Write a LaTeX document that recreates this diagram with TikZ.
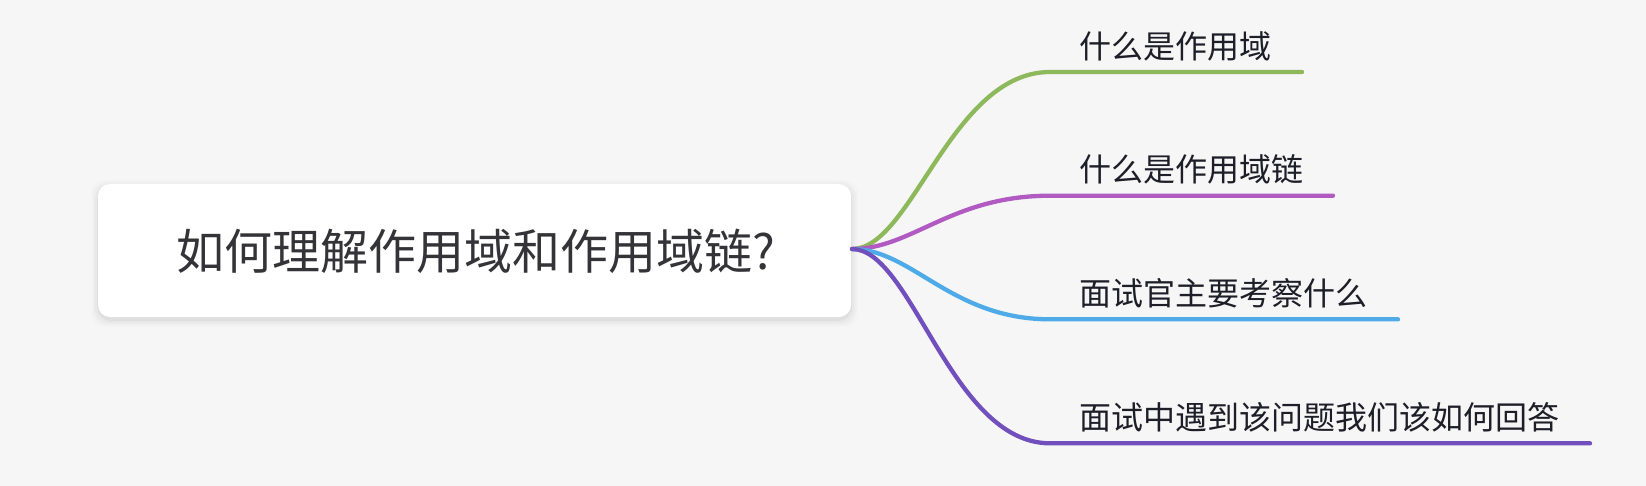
\documentclass[tikz,border=0pt]{standalone}
\usepackage{fontspec}
\newfontfamily\cjk{Noto Sans CJK SC}
\usepackage{tikz}
\definecolor{bggray}{HTML}{F6F6F6}
\definecolor{rootink}{HTML}{333338}
\definecolor{topicink}{HTML}{1E1E28}
\definecolor{topicgreen}{HTML}{8DB95C}
\definecolor{topicpink}{HTML}{B05AC2}
\definecolor{topicblue}{HTML}{4EABE8}
\definecolor{topicviolet}{HTML}{7150BE}
\tikzset{branch/.style={line width=4.3pt,line cap=round},
  topic/.style={anchor=west,inner sep=0pt,text=topicink,font=\cjk\fontsize{32}{38}\selectfont},
  roottext/.style={inner sep=0pt,text=rootink,font=\cjk\fontsize{48}{56}\selectfont}}

\begin{document}
\begin{tikzpicture}[x=1pt,y=-1pt]
            \fill[bggray] (0,0) rectangle (1646,486);
            % root box
            \foreach \s/\o in {7/0.012,5/0.018,3/0.025,1/0.035}
                \fill[black,opacity=\o,rounded corners=14pt] (98-\s,187-\s) rectangle (851+\s,320+\s);
            \fill[white,rounded corners=12pt] (98,184) rectangle (851,317);
            \node[roottext] (r) at (476,251) {如何理解作用域和作用域链?};
            \coordinate (o) at (852,249);
            % branches
            \foreach \n/\y/\e/\c/\t in {1/72/1302/topicgreen/什么是作用域,
                    2/195.7/1333/topicpink/什么是作用域链,
                    3/319.3/1398/topicblue/面试官主要考察什么,
                    4/443.3/1590/topicviolet/面试中遇到该问题我们该如何回答}
            {
                \coordinate (a\n) at (1050,\y);
                \coordinate (b\n) at (\e,\y);
                \draw[branch,\c] (o) .. controls +(60,0) and (951,\y) .. (a\n) -- (b\n);
                \node[topic] (t\n) at (1079,\y-26) {\t};
            }
        \end{tikzpicture}
\end{document}
